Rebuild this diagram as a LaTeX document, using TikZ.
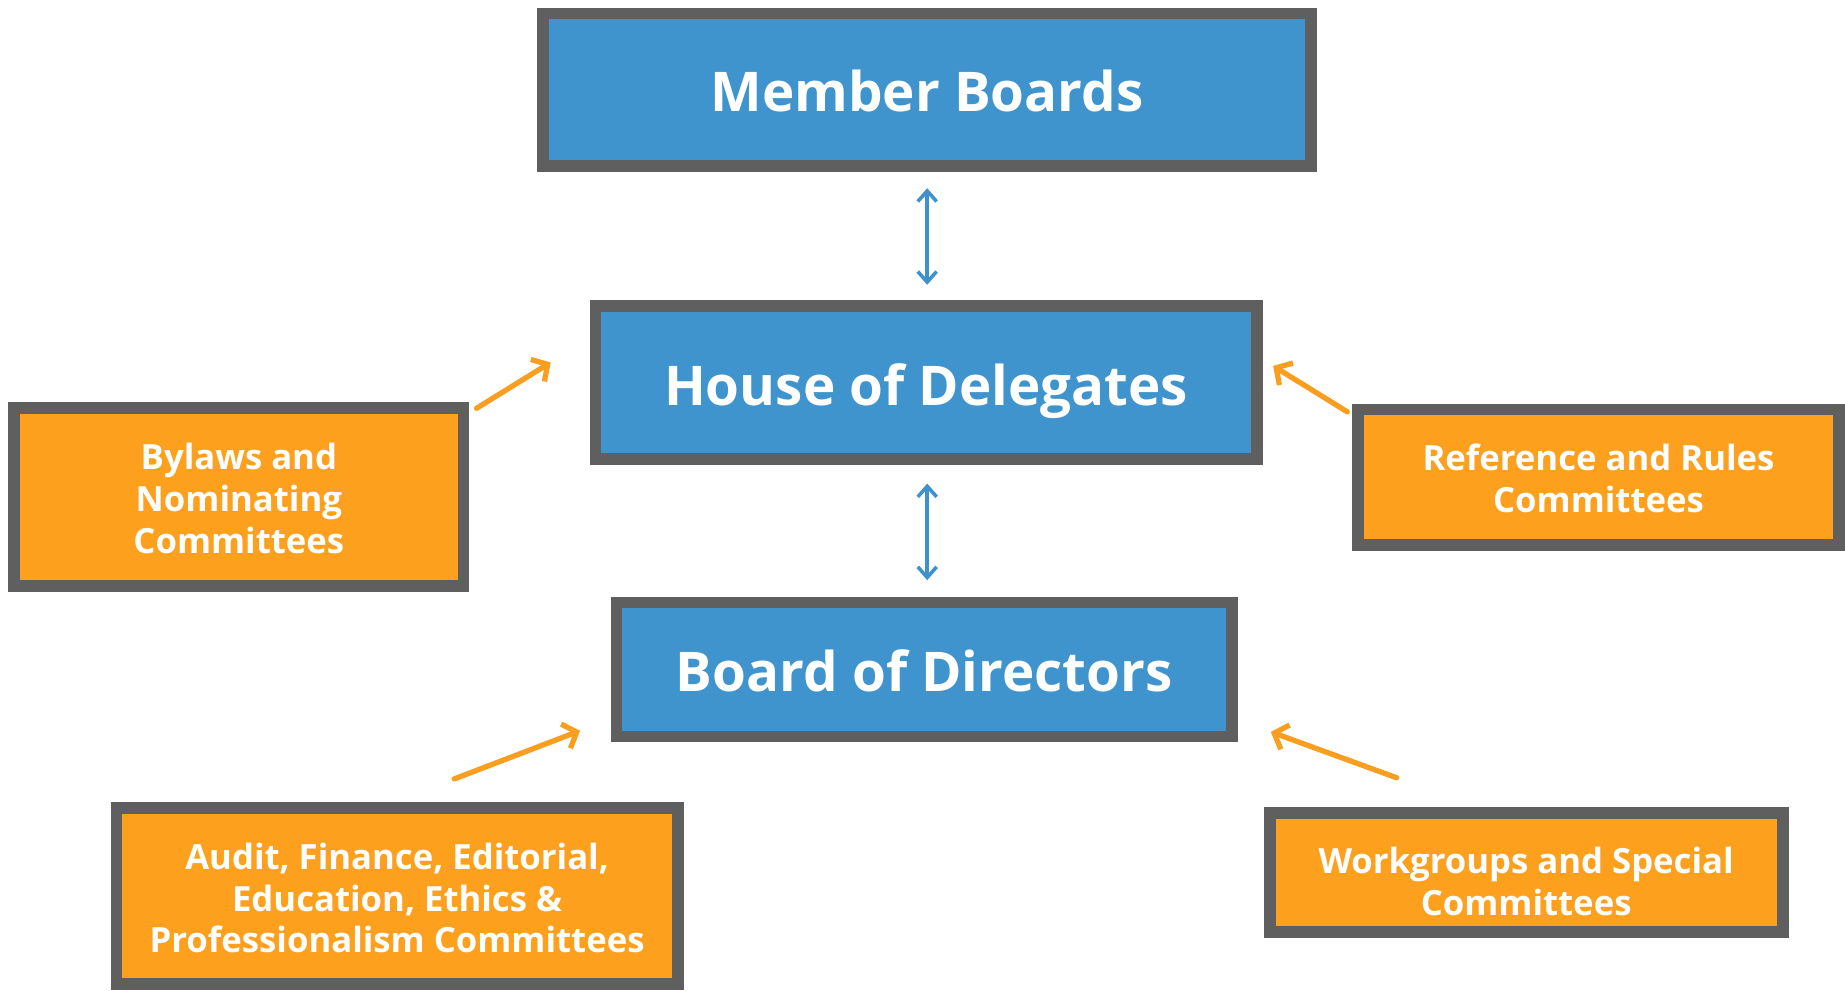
\documentclass[tikz,border=0pt]{standalone}
\usepackage{fontspec}
\setmainfont{Open Sans}
\usetikzlibrary{arrows.meta}
\definecolor{boxblue}{RGB}{64,148,206}
\definecolor{boxgray}{RGB}{95,95,95}
\definecolor{boxorange}{RGB}{253,160,30}
\definecolor{arrblue}{RGB}{61,145,205}
\definecolor{arrorange}{RGB}{250,158,32}
\begin{document}
\begin{tikzpicture}[x=1pt,y=-1pt,
  bigbox/.style={draw=boxgray, line width=10pt, fill=boxblue, inner sep=0pt, outer sep=0pt,
     text=white, font=\fontsize{46.5}{52}\selectfont\bfseries, align=center},
  smallbox/.style={draw=boxgray, line width=10pt, fill=boxorange, inner sep=0pt, outer sep=0pt,
     text=white, font=\fontsize{29.5}{35.5}\selectfont\bfseries, align=center},
  blink/.style={draw=arrblue, line width=3pt, {Straight Barb[length=9pt,width=16pt,line width=3pt]}-{Straight Barb[length=9pt,width=16pt,line width=3pt]}},
  olink/.style={draw=arrorange, line width=4.5pt, line cap=round, -{Straight Barb[length=10pt,width=22pt,line width=4.5pt]}}
  ]
\useasboundingbox (0,0) rectangle (1568,841.4);
\node[bigbox, minimum width=652.5pt, minimum height=129.5pt] (mb) at (787.75,76.25) {\rule{0pt}{38pt}Member Boards};
\node[bigbox, minimum width=562pt, minimum height=130pt] (hd) at (787,325) {\rule{0pt}{50pt}House of Delegates};
\node[bigbox, minimum width=523pt, minimum height=114pt] (bd) at (785.5,569) {\rule{0pt}{38pt}Board of Directors};
\node[smallbox, minimum width=382pt, minimum height=151pt] (bn) at (203,422.5) {\rule{0pt}{25pt}Bylaws and\\Nominating\\Committees};
\node[smallbox, minimum width=409pt, minimum height=115pt] (rr) at (1358.5,405.5) {\rule{0pt}{25pt}Reference and Rules\\Committees};
\node[smallbox, minimum width=477pt, minimum height=149pt] (af) at (337.5,761.5) {\rule{0pt}{26pt}Audit, Finance, Editorial,\\Education, Ethics \&\\Professionalism Committees};
\node[smallbox, minimum width=436pt, minimum height=101pt] (ws) at (1297,741.5) {\rule{0pt}{38pt}Workgroups and Special\\Committees};
\coordinate (b1s) at (788,160);
\coordinate (b1e) at (788,242);
\coordinate (b2s) at (788,411);
\coordinate (b2e) at (788,493);
\draw[blink] (b1s) -- (b1e);
\draw[blink] (b2s) -- (b2e);
\coordinate (o1s) at (405,347);
\coordinate (o1e) at (468,308);
\coordinate (o2s) at (1145,350);
\coordinate (o2e) at (1082,311);
\coordinate (o3s) at (386,662);
\coordinate (o3e) at (493,621);
\coordinate (o4s) at (1187,661);
\coordinate (o4e) at (1080,622);
\draw[olink] (o1s) -- (o1e);
\draw[olink] (o2s) -- (o2e);
\draw[olink] (o3s) -- (o3e);
\draw[olink] (o4s) -- (o4e);
\end{tikzpicture}
\end{document}
